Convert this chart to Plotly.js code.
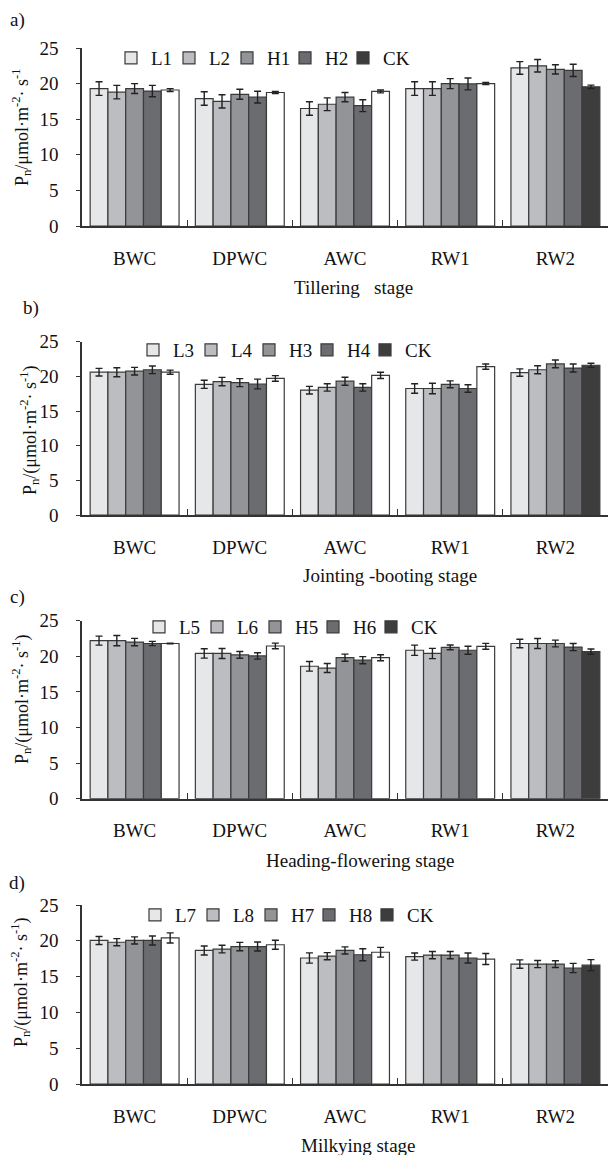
<!DOCTYPE html>
<html>
<head>
<meta charset="utf-8">
<script src="https://cdn.plot.ly/plotly-3.0.1.min.js"></script>
<style>html,body{margin:0;padding:0;background:#fff;}</style>
</head>
<body>
<div id="chart" style="width:615px;height:1155px;"></div>
<script>
// ---------- data ----------
const categories = ['BWC', 'DPWC', 'AWC', 'RW1', 'RW2'];

// a) Tillering stage
const aNames = ['L1', 'L2', 'H1', 'H2', 'CK'];
const aL1 = [19.3, 17.9, 16.5, 19.3, 22.2];
const aL2 = [18.8, 17.5, 17.1, 19.3, 22.5];
const aH1 = [19.3, 18.5, 18.1, 20.0, 22.0];
const aH2 = [18.95, 18.1, 16.9, 19.95, 21.85];
const aCK = [19.1, 18.75, 18.9, 20.0, 19.55];
const aL1e = [0.95, 0.95, 0.95, 0.95, 0.88];
const aL2e = [0.95, 0.93, 0.9, 0.95, 0.88];
const aH1e = [0.7, 0.7, 0.65, 0.7, 0.65];
const aH2e = [0.8, 0.83, 0.83, 0.83, 0.86];
const aCKe = [0.2, 0.15, 0.2, 0.15, 0.24];

// b) Jointing-booting stage
const bNames = ['L3', 'L4', 'H3', 'H4', 'CK'];
const bL3 = [20.6, 18.85, 18.0, 18.25, 20.55];
const bL4 = [20.6, 19.25, 18.4, 18.25, 20.95];
const bH3 = [20.75, 19.1, 19.3, 18.85, 21.8];
const bH4 = [20.95, 18.9, 18.4, 18.25, 21.2];
const bCK = [20.6, 19.7, 20.15, 21.4, 21.6];
const bL3e = [0.55, 0.58, 0.55, 0.68, 0.53];
const bL4e = [0.65, 0.6, 0.53, 0.75, 0.58];
const bH3e = [0.55, 0.58, 0.58, 0.5, 0.55];
const bH4e = [0.55, 0.7, 0.53, 0.55, 0.58];
const bCKe = [0.3, 0.4, 0.45, 0.38, 0.3];

// c) Heading-flowering stage
const cNames = ['L5', 'L6', 'H5', 'H6', 'CK'];
const cL5 = [22.2, 20.4, 18.6, 20.85, 21.8];
const cL6 = [22.2, 20.4, 18.35, 20.4, 21.8];
const cH5 = [22.0, 20.2, 19.8, 21.25, 21.8];
const cH6 = [21.8, 20.05, 19.45, 20.85, 21.3];
const cCK = [21.8, 21.45, 19.8, 21.4, 20.65];
const cL5e = [0.63, 0.65, 0.68, 0.72, 0.6];
const cL6e = [0.72, 0.7, 0.63, 0.72, 0.7];
const cH5e = [0.52, 0.47, 0.5, 0.33, 0.47];
const cH6e = [0.3, 0.44, 0.5, 0.56, 0.5];
const cCKe = [0.05, 0.4, 0.42, 0.42, 0.37];

// d) Milkying stage
const dNames = ['L7', 'L8', 'H7', 'H8', 'CK'];
const dL7 = [20.05, 18.65, 17.6, 17.8, 16.75];
const dL8 = [19.8, 18.85, 17.85, 18.0, 16.75];
const dH7 = [20.05, 19.2, 18.65, 18.0, 16.75];
const dH8 = [20.05, 19.2, 18.05, 17.6, 16.2];
const dCK = [20.4, 19.45, 18.4, 17.45, 16.6];
const dL7e = [0.56, 0.63, 0.72, 0.5, 0.58];
const dL8e = [0.5, 0.53, 0.5, 0.5, 0.5];
const dH7e = [0.5, 0.58, 0.5, 0.5, 0.47];
const dH8e = [0.63, 0.63, 0.84, 0.7, 0.65];
const dCKe = [0.7, 0.63, 0.68, 0.77, 0.77];

const stageTitles = ['Tillering\u00a0\u00a0 stage', 'Jointing -booting stage', 'Heading-flowering stage', 'Milkying stage'];
const panelLabels = ['a)', 'b)', 'c)', 'd)'];
const yTitles = [
  'P<sub>n</sub>/μmol·m<sup>-2</sup>· s<sup>-1</sup>',
  'P<sub>n</sub>/(μmol·m<sup>-2</sup>· s<sup>-1</sup>)',
  'P<sub>n</sub>/(μmol·m<sup>-2</sup>· s<sup>-1</sup>)',
  'P<sub>n</sub>/(μmol·m<sup>-2</sup>· s<sup>-1</sup>)'
];

// ---------- styling ----------
const FONT = '"Liberation Serif", "Times New Roman", serif';
const W = 615, H = 1155;
const fills = ['#e6e7e8', '#bcbdc0', '#929497', '#6b6c6f'];
const ckDark = '#3d3d3e';
const ckWhite = '#ffffff';
const outline = '#3a3a3a';

// pixel geometry of the four plot areas (top, bottom)
const panelPx = [[48, 226], [341.7, 515], [620.7, 798.7], [905, 1084]];
const xLeftPx = 82, xRightPx = 608;
const legendPos = [[111, 58], [133, 350], [139, 627], [135, 915]];
const xTitlePos = [[353, 288], [390, 575], [360, 860], [358, 1145]];
const yTitlePos = [[21, 128], [29, 431], [21, 700], [20, 983]];
const labelPos = [[17, 20], [31, 308], [17, 597], [17, 883]];

const panels = [
  {names: aNames, vals: [aL1, aL2, aH1, aH2, aCK], errs: [aL1e, aL2e, aH1e, aH2e, aCKe]},
  {names: bNames, vals: [bL3, bL4, bH3, bH4, bCK], errs: [bL3e, bL4e, bH3e, bH4e, bCKe]},
  {names: cNames, vals: [cL5, cL6, cH5, cH6, cCK], errs: [cL5e, cL6e, cH5e, cH6e, cCKe]},
  {names: dNames, vals: [dL7, dL8, dH7, dH8, dCK], errs: [dL7e, dL8e, dH7e, dH8e, dCKe]}
];

const traces = [];
const layout = {
  width: W, height: H,
  margin: {l: 0, r: 0, t: 0, b: 0},
  paper_bgcolor: '#fff', plot_bgcolor: '#fff',
  font: {family: FONT, color: '#111', size: 18},
  barmode: 'group', bargap: 0.155, bargroupgap: 0,
  showlegend: true,
  annotations: []
};

// CK is listed with RW2 first so that its legend swatch takes the dark colour
const ckOrder = [4, 0, 1, 2, 3];

panels.forEach((p, k) => {
  const sfx = k === 0 ? '' : String(k + 1);
  const xa = 'x' + sfx, ya = 'y' + sfx;
  const legName = 'legend' + sfx;
  p.vals.forEach((v, j) => {
    const isCK = j === 4;
    const order = isCK ? ckOrder : [0, 1, 2, 3, 4];
    const tr = {
      type: 'bar',
      name: p.names[j],
      x: order.map(i => categories[i]),
      y: order.map(i => v[i]),
      xaxis: xa, yaxis: ya,
      legend: legName,
      marker: {
        color: isCK ? order.map(i => (i === 4 ? ckDark : ckWhite)) : fills[j],
        line: {color: outline, width: 1.2}
      },
      error_y: {type: 'data', array: order.map(i => p.errs[j][i]), visible: true,
                color: '#222', thickness: 1.4, width: 3.5},
      hoverinfo: 'x+y+name'
    };
    if (isCK) tr.legendwidth = 32;
    traces.push(tr);
  });

  const top = panelPx[k][0], bot = panelPx[k][1];
  layout['xaxis' + sfx] = {
    domain: [xLeftPx / W, xRightPx / W],
    anchor: ya,
    type: 'category',
    categoryorder: 'array', categoryarray: categories,
    range: [-0.5, 4.5],
    showline: true, linecolor: '#333', linewidth: 1.5,
    ticks: 'inside', tickson: 'boundaries', ticklen: 6, tickcolor: '#333', tickwidth: 1.2,
    showgrid: false, zeroline: false,
    tickfont: {family: FONT, size: 19, color: '#111'},
    ticklabelstandoff: 14,
    fixedrange: true
  };
  layout['yaxis' + sfx] = {
    domain: [1 - bot / H, 1 - top / H],
    anchor: xa,
    range: [0, 25], dtick: 5, tick0: 0,
    showline: true, linecolor: '#333', linewidth: 1.5,
    ticks: 'outside', ticklen: 4, tickcolor: '#333', tickwidth: 1.2,
    showgrid: false, zeroline: false,
    tickfont: {family: FONT, size: 19, color: '#111'},
    ticklabelstandoff: 14,
    fixedrange: true
  };
  layout[legName] = {
    orientation: 'h',
    x: legendPos[k][0] / W, xanchor: 'left',
    y: 1 - legendPos[k][1] / H, yanchor: 'middle',
    font: {family: FONT, size: 19, color: '#111'},
    bgcolor: 'rgba(0,0,0,0)', borderwidth: 0,
    itemwidth: 30, entrywidth: 13, entrywidthmode: 'pixels',
    traceorder: 'normal', tracegroupgap: 0,
    itemclick: false, itemdoubleclick: false
  };

  layout.annotations.push({
    xref: 'paper', yref: 'paper', showarrow: false,
    x: xTitlePos[k][0] / W, y: 1 - xTitlePos[k][1] / H,
    xanchor: 'center', yanchor: 'middle',
    text: stageTitles[k], font: {family: FONT, size: 19, color: '#111'}
  });
  layout.annotations.push({
    xref: 'paper', yref: 'paper', showarrow: false,
    x: yTitlePos[k][0] / W, y: 1 - yTitlePos[k][1] / H,
    xanchor: 'center', yanchor: 'middle', textangle: -90,
    text: yTitles[k], font: {family: FONT, size: 18, color: '#111'}
  });
  layout.annotations.push({
    xref: 'paper', yref: 'paper', showarrow: false,
    x: labelPos[k][0] / W, y: 1 - labelPos[k][1] / H,
    xanchor: 'center', yanchor: 'middle',
    text: panelLabels[k], font: {family: FONT, size: 19, color: '#111'}
  });
});

Plotly.newPlot('chart', traces, layout, {displayModeBar: false});
</script>
</body>
</html>
